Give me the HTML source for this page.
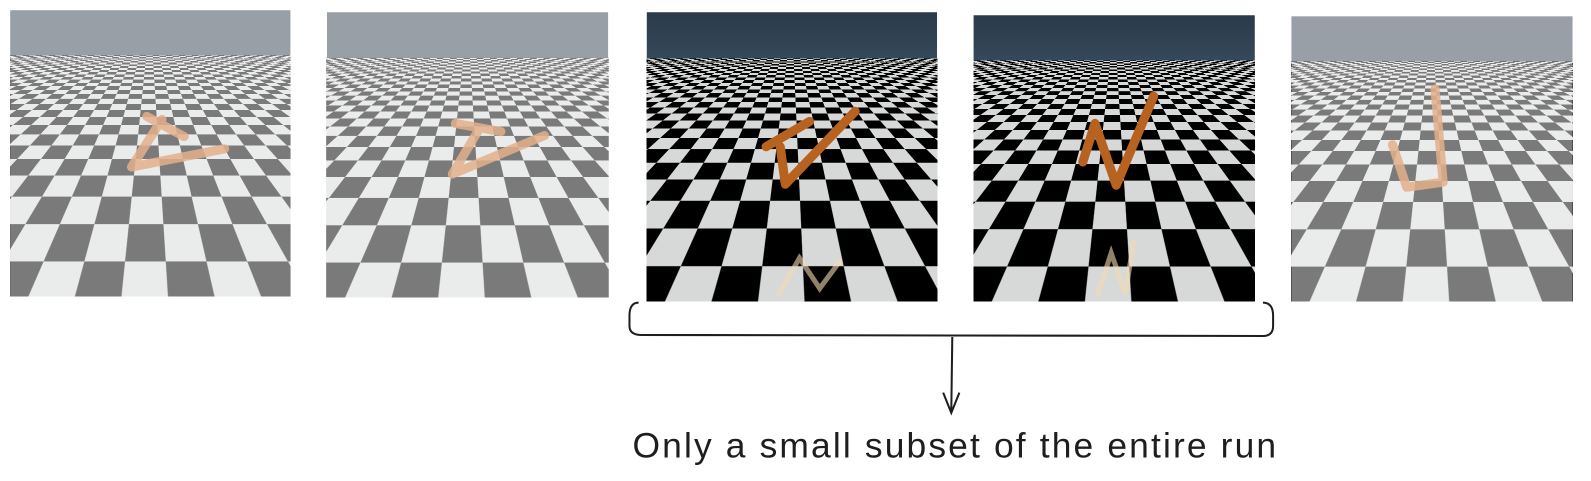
<!DOCTYPE html>
<html><head><meta charset="utf-8">
<style>
html,body{margin:0;padding:0;background:#fff;}
body{width:1591px;height:481px;position:relative;overflow:hidden;font-family:"Liberation Sans",sans-serif;}
#wrap{position:absolute;left:0;top:0;width:1560px;height:472px;transform:scale(1.012);transform-origin:0 0;}
.panel{position:absolute;overflow:hidden;}
.sky{position:absolute;left:0;top:0;right:0;height:16%;}
.floor{position:absolute;left:0;right:0;top:16%;bottom:0;overflow:hidden;perspective:220px;perspective-origin:50% 0;}
.plane{position:absolute;left:-2000px;width:4280px;bottom:0;height:5000px;transform-origin:50% 100%;transform:rotateX(80deg);
background-color:#d9dbdb;background-image:repeating-conic-gradient(#000 0 25%,#d7d9d9 0 50%);background-size:92px 92px;background-position:-6px 0;}
.faded .sky{background:#999fa6;}
.dark .sky{background:linear-gradient(#2b3a4a,#34495a);}
.fadeov{position:absolute;inset:0;background:rgba(255,255,255,0.48);}
</style></head><body>
<div id="wrap">
<div id="p1" class="panel faded" style="left:10px;top:10px;width:277px;height:283px"><div class="sky"></div><div class="floor"><div class="plane"></div></div></div>
<div id="p2" class="panel faded" style="left:323px;top:12px;width:278px;height:282px"><div class="sky"></div><div class="floor"><div class="plane"></div></div></div>
<div id="p3" class="panel dark" style="left:639px;top:12px;width:287px;height:286px"><div class="sky"></div><div class="floor"><div class="plane"></div></div></div>
<div id="p4" class="panel dark" style="left:962px;top:15px;width:278px;height:283px"><div class="sky"></div><div class="floor"><div class="plane"></div></div></div>
<div id="p5" class="panel faded" style="left:1276px;top:16px;width:278px;height:282px"><div class="sky"></div><div class="floor"><div class="plane"></div></div></div>

<svg width="1560" height="472" style="position:absolute;left:0;top:0">
<g stroke-linecap="round" fill="none">
 <g stroke="#e3b08c" stroke-width="9" opacity="0.85">
  <path d="M145 115 L182 135 M130 165 L160 118 M130 165 L222 147"/>
  <path d="M450 122 L495 130 M447 172 L472 130 M447 172 L538 134"/>
  <path d="M1418 88 L1426 180 M1376 143 L1390 185 M1390 185 L1426 180"/>
 </g>
 <g stroke="#b8621f" stroke-width="9">
  <path d="M757 145 L800 120 M776 182 L771 145 M776 182 L845 110"/>
  <path d="M1070 160 L1082 122 M1082 122 L1103 183 M1103 183 L1140 95"/>
 </g>
 <g stroke="#f3d8b0" stroke-width="5" opacity="0.6">
  <path d="M770 290 L790 255 L810 285 L830 258"/>
  <path d="M1085 290 L1098 250 L1112 290 L1120 240"/>
 </g>
</g>
<path d="M631 299 Q622 299 622 312 L622 322 Q622 331 634 331 L1248 332 Q1258 332 1258 322 L1258 312 Q1258 299 1248 299" stroke="#1e1e1e" stroke-width="2" fill="none"/>
<path d="M941 333 L940 407 M932 388 L940 408 L948 388" stroke="#1e1e1e" stroke-width="2" fill="none"/>
<text x="625" y="452" font-family="Liberation Sans, sans-serif" font-size="35" fill="#1e1e1e" textLength="636">Only a small subset of the entire run</text>
</svg>
</div>
<script>
['p1','p2','p5'].forEach(function(id){
 var d=document.createElement('div');d.className='fadeov';
 
 
 document.getElementById(id).querySelector('.floor').appendChild(d);
});
</script>
</body></html>
